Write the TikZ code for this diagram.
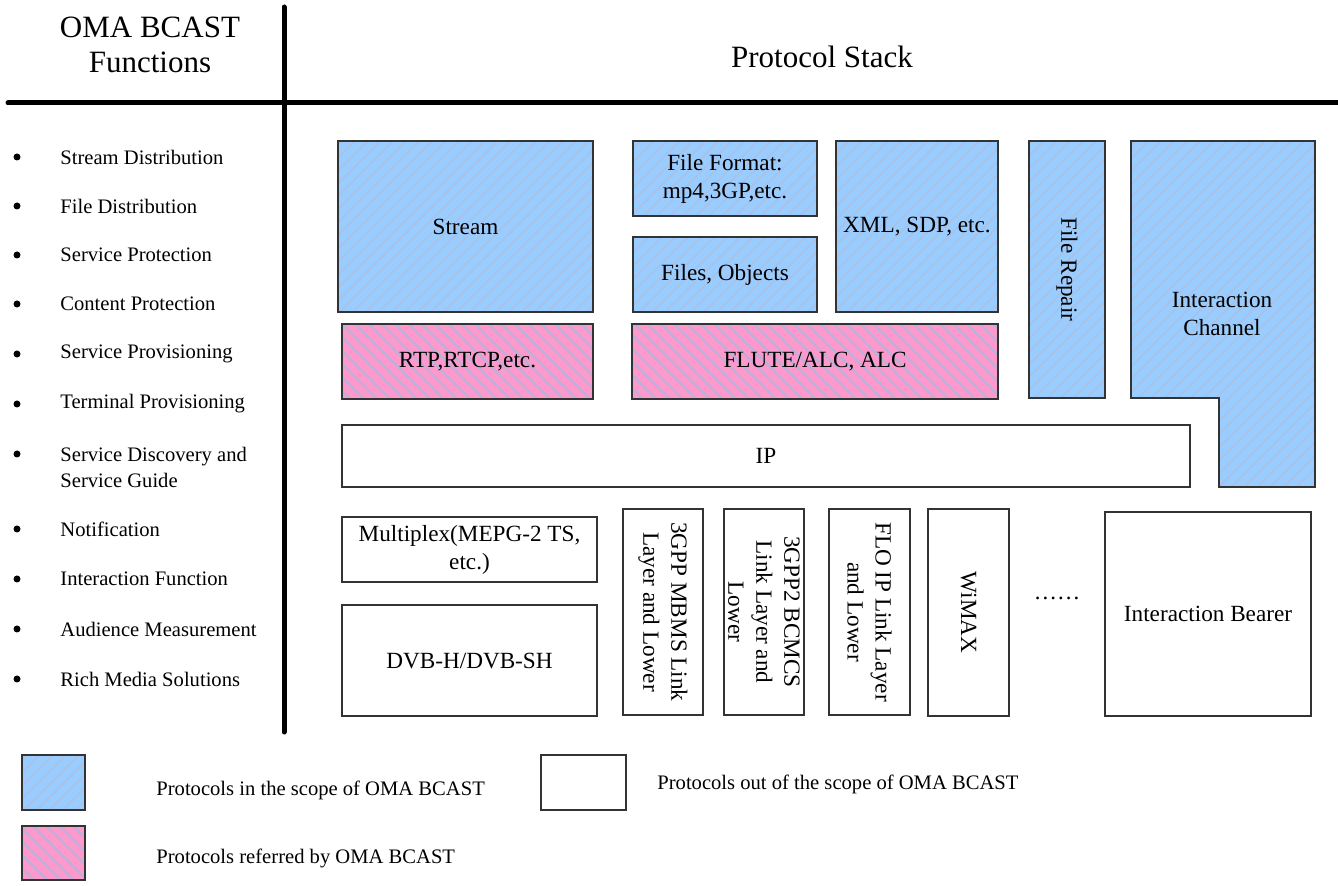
\documentclass[tikz,border=0pt]{standalone}
\usepackage{fontspec}
\setmainfont{Liberation Serif}
\usetikzlibrary{patterns.meta}
\definecolor{scopeblue}{HTML}{99CCFF}
\definecolor{referpink}{HTML}{FF99CC}
\definecolor{bluehatch}{HTML}{AFBFE0}
\definecolor{pinkhatch}{HTML}{C2AEDA}
\definecolor{boxline}{HTML}{333333}
\tikzset{
  inscope/.style={draw=boxline, line width=.7pt, preaction={fill=scopeblue},
    pattern={Lines[angle=45,distance=4.6pt,line width=.7pt]}, pattern color=bluehatch},
  referred/.style={draw=boxline, line width=.7pt, preaction={fill=referpink},
    pattern={Lines[angle=-45,distance=4.7pt,line width=1.3pt]}, pattern color=pinkhatch},
  outscope/.style={draw=boxline, line width=.7pt, fill=white},
  boxtext/.style={font=\fontsize{11.6}{14}\selectfont, align=center, inner sep=0pt},
  listtext/.style={font=\fontsize{10.3}{13}\selectfont, align=left, anchor=west, inner sep=0pt},
  titletext/.style={font=\fontsize{15.5}{17.5}\selectfont, align=center, inner sep=0pt},
  divider/.style={line width=2.5pt, line cap=round}
}
\begin{document}
\begin{tikzpicture}[x=0.5pt, y=-0.5pt]
  \useasboundingbox (0,0) rectangle (1338,886);

  % headings and the two dividing lines
  \draw[divider] (284,7) -- (284,732);
  \draw[divider] (8,103) -- (1338,103);
  \node[titletext] (functitle) at (150,45) {OMA BCAST\\Functions};
  \node[titletext] (stacktitle) at (822,57) {Protocol Stack};

  % list of functions
  \fill (17,157) circle (3.5); \node[listtext] (fstream) at (60,157) {Stream Distribution};
  \fill (17,206) circle (3.5); \node[listtext] (ffile) at (60,206) {File Distribution};
  \fill (17,255) circle (3.5); \node[listtext] (fservprot) at (60,255) {Service Protection};
  \fill (17,304) circle (3.5); \node[listtext] (fcontprot) at (60,304) {Content Protection};
  \fill (17,354) circle (3.5); \node[listtext] (fservprov) at (60,354) {Service Provisioning};
  \fill (17,404) circle (3.5); \node[listtext] (ftermprov) at (60,404) {Terminal Provisioning};
  \fill (17,454) circle (3.5); \node[listtext] (fdisc) at (60,467) {Service Discovery and\\Service Guide};
  \fill (17,529) circle (3.5); \node[listtext] (fnotif) at (60,529) {Notification};
  \fill (17,579) circle (3.5); \node[listtext] (finter) at (60,579) {Interaction Function};
  \fill (17,629) circle (3.5); \node[listtext] (faudience) at (60,629) {Audience Measurement};
  \fill (17,679) circle (3.5); \node[listtext] (frich) at (60,679) {Rich Media Solutions};

  % upper layers
  \draw[inscope] (338,141) rectangle (593,312);
  \node[boxtext] (stream) at (465.5,226.5) {Stream};
  \draw[inscope] (633,141) rectangle (817,216);
  \node[boxtext] (format) at (725,178.5) {File Format:\\mp4,3GP,etc.};
  \draw[inscope] (633,237) rectangle (817,312);
  \node[boxtext] (files) at (725,274.5) {Files, Objects};
  \draw[inscope] (836,141) rectangle (998,312);
  \node[boxtext] (xml) at (917,226.5) {XML, SDP, etc.};
  \draw[inscope] (1029,141) rectangle (1105,398);
  \node[boxtext, rotate=-90] (repair) at (1067,269.5) {File Repair};
  \draw[inscope] (1131,141) -- (1315,141) -- (1315,487) -- (1219,487)
    -- (1219,398) -- (1131,398) -- cycle;
  \node[boxtext] (channel) at (1222,314) {Interaction\\Channel};

  \draw[referred] (342,324) rectangle (593,399);
  \node[boxtext] (rtp) at (467.5,361.5) {RTP,RTCP,etc.};
  \draw[referred] (632,324) rectangle (998,399);
  \node[boxtext] (flute) at (815,361.5) {FLUTE/ALC, ALC};

  \draw[outscope] (342,425) rectangle (1190,487);
  \node[boxtext] (ip) at (766,456) {IP};

  % bearers
  \draw[outscope] (342,517) rectangle (597,582);
  \node[boxtext] (mux) at (469.5,549.5) {Multiplex(MEPG-2 TS,\\etc.)};
  \draw[outscope] (342,605) rectangle (597,716);
  \node[boxtext] (dvb) at (469.5,660.5) {DVB-H/DVB-SH};
  \draw[outscope] (623,509) rectangle (703,715);
  \node[boxtext, rotate=-90] (mbms) at (663,612) {3GPP MBMS Link\\Layer and Lower};
  \draw[outscope] (724,509) rectangle (804,715);
  \node[boxtext, rotate=-90] (bcmcs) at (764,612) {3GPP2 BCMCS\\Link Layer and\\Lower};
  \draw[outscope] (829,509) rectangle (910,715);
  \node[boxtext, rotate=-90] (flo) at (869.5,612) {FLO IP Link Layer\\and Lower};
  \draw[outscope] (928,509) rectangle (1009,716);
  \node[boxtext, rotate=-90] (wimax) at (968.5,612.5) {WiMAX};
  \node[boxtext] (more) at (1057,598) {……};
  \draw[outscope] (1105,512) rectangle (1311,716);
  \node[boxtext] (bearer) at (1208,614) {Interaction Bearer};

  % legend
  \draw[inscope] (22,755) rectangle (85,810);
  \node[listtext] (leginscope) at (156,790) {Protocols in the scope of OMA BCAST};
  \draw[referred] (22,826) rectangle (85,880);
  \node[listtext] (legreferred) at (156,858) {Protocols referred by OMA BCAST};
  \draw[outscope] (541,755) rectangle (626,810);
  \node[listtext] (legoutscope) at (657,784) {Protocols out of the scope of OMA BCAST};
\end{tikzpicture}
\end{document}
